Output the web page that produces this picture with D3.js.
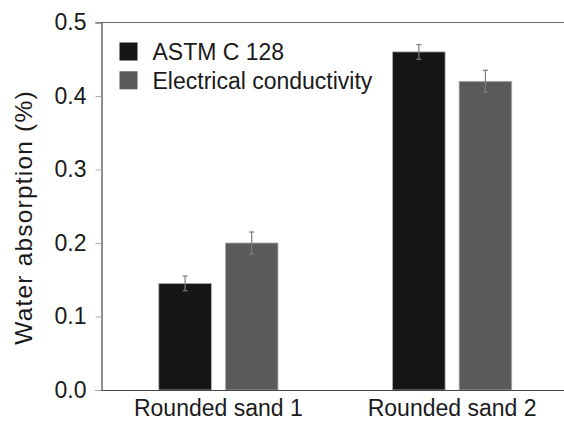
<!DOCTYPE html>
<html>
<head>
<meta charset="utf-8">
<script src="https://cdn.jsdelivr.net/npm/d3@7"></script>
<style>
  body { margin: 0; background: #fff; }
  text { font-family: "Liberation Sans", Arial, sans-serif; fill: #1a1a1a; }
</style>
</head>
<body>
<svg id="chart" width="564" height="422"></svg>
<script>
// values
const categories = ['Rounded sand 1', 'Rounded sand 2'];
const series = ['ASTM C 128', 'Electrical conductivity'];
const astm = [0.145, 0.46];
const astmErr = [0.01, 0.01];
const conductivity = [0.2, 0.42];
const conductivityErr = [0.015, 0.015];
const yTicks = [0.0, 0.1, 0.2, 0.3, 0.4, 0.5];
const colors = ['#161616', '#5a5a5a'];

const rows = categories.map((c, i) => ({
  category: c,
  bars: [
    { key: series[0], value: astm[i], err: astmErr[i] },
    { key: series[1], value: conductivity[i], err: conductivityErr[i] }
  ]
}));

const plotLeft = 101.5, plotTop = 22.5, plotBottom = 390, plotRight = 569;

const svg = d3.select('#chart');

const x0 = d3.scaleBand()
  .domain(categories)
  .range([plotLeft, plotRight]);

const x1 = d3.scaleBand()
  .domain(series)
  .range([0, x0.bandwidth()])
  .paddingInner(0.21)
  .paddingOuter(0.86);

const y = d3.scaleLinear()
  .domain([0, 0.5])
  .range([plotBottom, plotTop]);

const color = d3.scaleOrdinal().domain(series).range(colors);

// top frame line
svg.append('line')
  .attr('x1', plotLeft - 6).attr('x2', 564)
  .attr('y1', y(0.5)).attr('y2', y(0.5))
  .attr('stroke', '#6a6a6a').attr('stroke-width', 1.2);

// y axis
const yAxis = svg.append('g')
  .attr('transform', `translate(${plotLeft},0)`)
  .call(d3.axisLeft(y).tickValues(yTicks).tickFormat(d3.format('.1f')).tickSize(6).tickPadding(9));
yAxis.select('.domain').attr('stroke', '#444').attr('stroke-width', 1.2);
yAxis.selectAll('.tick line').attr('stroke', '#aaa');
yAxis.selectAll('.tick text')
  .style('font-size', '23px')
  .style('font-family', '"Liberation Sans", Arial, sans-serif')
  .attr('fill', '#1a1a1a');

// bars
const groups = svg.append('g').selectAll('g')
  .data(rows)
  .join('g')
  .attr('transform', d => `translate(${x0(d.category)},0)`);

groups.selectAll('rect')
  .data(d => d.bars)
  .join('rect')
  .attr('x', d => x1(d.key))
  .attr('y', d => y(d.value))
  .attr('width', x1.bandwidth())
  .attr('height', d => y(0) - y(d.value))
  .attr('fill', d => color(d.key))
  .attr('stroke', '#b0b0b0')
  .attr('stroke-width', 0.8);

// error bars
const eb = groups.selectAll('g.err')
  .data(d => d.bars)
  .join('g')
  .attr('class', 'err')
  .attr('stroke', '#7c7c7c')
  .attr('stroke-width', 1.2);

eb.append('line')
  .attr('x1', d => x1(d.key) + x1.bandwidth() / 2)
  .attr('x2', d => x1(d.key) + x1.bandwidth() / 2)
  .attr('y1', d => y(d.value + d.err))
  .attr('y2', d => y(d.value - d.err));
[1, -1].forEach(s => {
  eb.append('line')
    .attr('x1', d => x1(d.key) + x1.bandwidth() / 2 - 2.5)
    .attr('x2', d => x1(d.key) + x1.bandwidth() / 2 + 2.5)
    .attr('y1', d => y(d.value + s * d.err))
    .attr('y2', d => y(d.value + s * d.err));
});

// x axis
const xAxis = svg.append('g')
  .attr('transform', `translate(0,${plotBottom})`)
  .call(d3.axisBottom(x0).tickSize(0).tickPadding(10));
xAxis.select('.domain').attr('stroke', '#444').attr('stroke-width', 1.2);
xAxis.selectAll('.tick text')
  .style('font-size', '23px')
  .style('font-family', '"Liberation Sans", Arial, sans-serif')
  .attr('fill', '#1a1a1a');

// y label
svg.append('text')
  .attr('transform', 'translate(32,217.5) rotate(-90)')
  .attr('text-anchor', 'middle')
  .style('font-size', '24.5px')
  .style('letter-spacing', '1.2px')
  .text('Water absorption (%)');

// legend
const legend = svg.append('g').selectAll('g')
  .data(series)
  .join('g')
  .attr('transform', (d, i) => `translate(119.5,${42.5 + i * 28.8})`);
legend.append('rect')
  .attr('width', 18).attr('height', 18)
  .attr('fill', d => color(d));
legend.append('text')
  .attr('x', 33).attr('y', 17.5)
  .style('font-size', '23px')
  .text(d => d);
</script>
</body>
</html>
